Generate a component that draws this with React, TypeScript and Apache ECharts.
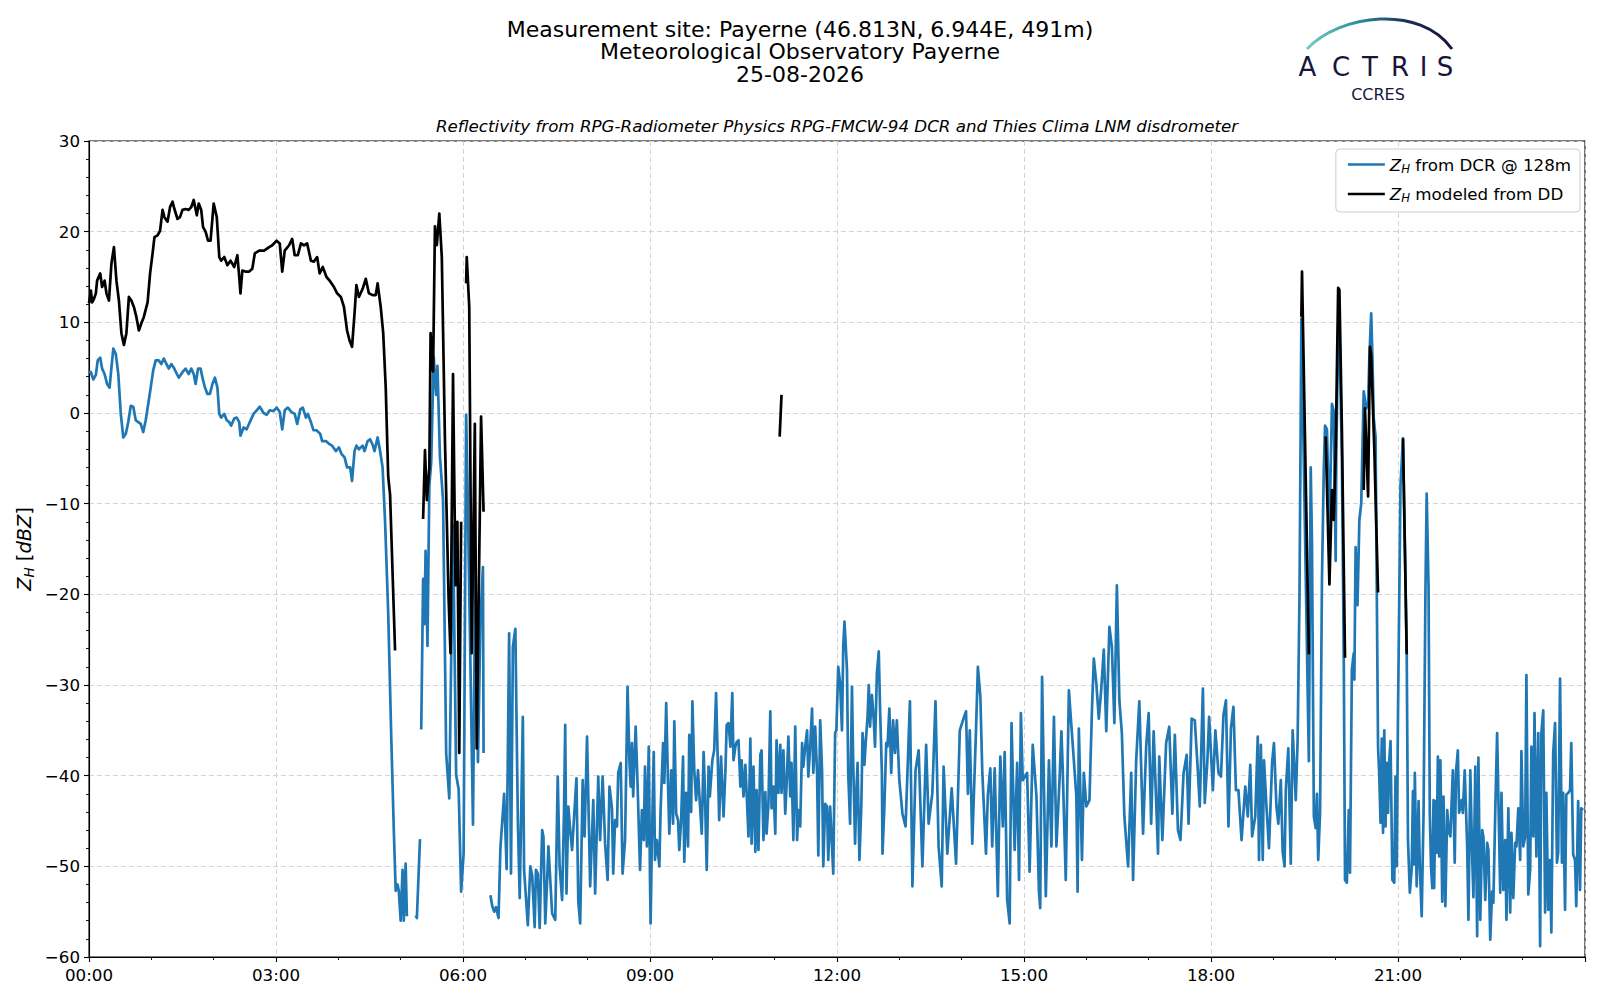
import React, { useEffect, useRef } from "react";
import * as echarts from "echarts";

type P = [number, number];

// ---- tick labels / axis ranges ----
const xTickHours: number[] = [0, 3, 6, 9, 12, 15, 18, 21];
const yRange: number[] = [-60, 30];

// ---- texts ----
const titleLines: string[] = [
  "Measurement site: Payerne (46.813N, 6.944E, 491m)",
  "Meteorological Observatory Payerne",
  "25-08-2026",
];
const subTitle = "Reflectivity from RPG-Radiometer Physics RPG-FMCW-94 DCR and Thies Clima LNM disdrometer";
const seriesNames: string[] = ["ZH from DCR @ 128m", "ZH modeled from DD"];

// ---- Z_H from DCR (hour, dBZ) ----
const dcrEarly: P[] = [
  [0.0, 4.5], [0.03, 4.5], [0.07, 3.7], [0.11, 4.2], [0.14, 5.8], [0.18, 6.1], [0.21, 4.9], [0.25, 4.3],
  [0.29, 3.2], [0.33, 2.8], [0.36, 5.0], [0.39, 7.1], [0.43, 6.5], [0.47, 4.3], [0.51, -0.1], [0.55, -2.7],
  [0.59, -2.3], [0.63, -1.0], [0.67, 0.8], [0.71, 0.7], [0.75, -0.8], [0.79, -1.0], [0.83, -1.2], [0.87, -2.1],
  [0.91, -0.8], [0.95, 1.0], [0.99, 2.8], [1.03, 4.7], [1.07, 5.8], [1.12, 5.8], [1.16, 5.4], [1.2, 6.0],
  [1.25, 5.3], [1.28, 4.9], [1.32, 5.4], [1.36, 5.0], [1.41, 4.3], [1.44, 3.9], [1.5, 4.5], [1.55, 4.9],
  [1.6, 4.3], [1.64, 4.9], [1.68, 4.3], [1.71, 3.2], [1.75, 4.9], [1.79, 4.9], [1.82, 3.9], [1.86, 2.8],
  [1.9, 2.1], [1.94, 2.1], [1.98, 3.2], [2.02, 3.9], [2.06, 2.8], [2.09, -0.1], [2.12, -0.5], [2.17, -0.1],
  [2.21, -0.8], [2.25, -1.0], [2.28, -1.4], [2.33, -0.6], [2.37, -0.5], [2.41, -1.0], [2.43, -2.5], [2.48, -1.6],
  [2.53, -1.8], [2.58, -1.0], [2.64, -0.1], [2.69, 0.3], [2.74, 0.7], [2.8, 0.0], [2.85, -0.2], [2.9, 0.3],
  [2.96, 0.2], [3.01, 0.6], [3.06, 0.1], [3.1, -1.8], [3.14, 0.3], [3.19, 0.6], [3.25, 0.1], [3.3, -0.1],
  [3.34, -1.2], [3.39, 0.4], [3.43, 0.6], [3.48, -0.5], [3.51, -0.1], [3.56, -1.0], [3.6, -1.9], [3.65, -1.9],
  [3.71, -2.3], [3.74, -3.1], [3.8, -3.1], [3.85, -3.4], [3.9, -3.6], [3.96, -4.2], [4.01, -3.8], [4.05, -4.5],
  [4.1, -4.9], [4.14, -6.0], [4.19, -6.0], [4.22, -7.5], [4.26, -4.2], [4.29, -3.6], [4.33, -4.0], [4.39, -3.6],
  [4.42, -4.2], [4.47, -3.1], [4.51, -2.9], [4.55, -3.5], [4.58, -4.2], [4.63, -2.7], [4.67, -4.2], [4.71, -6.0],
  [4.75, -12.0], [4.8, -22.0], [4.85, -36.0], [4.89, -46.0], [4.92, -52.7], [4.95, -52.0], [4.97, -52.7],
  [5.0, -56.0], [5.03, -50.4], [5.05, -56.0], [5.08, -49.7], [5.1, -55.5],
];
const dcrDip: P[] = [[5.24, -55.4], [5.26, -55.7], [5.31, -47.0]];
const dcrBurst: P[] = [
  [5.33, -34.9], [5.36, -18.3], [5.38, -23.3], [5.4, -15.2], [5.43, -25.7], [5.46, -8.0], [5.49, -5.4],
  [5.53, 6.2], [5.57, 2.0], [5.59, 5.2], [5.63, -4.8], [5.68, -9.6], [5.73, -37.5], [5.78, -42.5],
  [5.84, -12.3], [5.89, -39.9], [5.93, -41.5], [5.97, -52.8], [6.01, -48.6], [6.05, -0.2], [6.07, -7.0],
  [6.12, -28.0], [6.16, -45.4], [6.2, -14.9], [6.24, -38.5], [6.28, -22.8], [6.32, -17.0], [6.33, -37.5],
];
const dcrMorning: P[] = [
  [6.44, -53.2], [6.47, -54.4], [6.5, -55.0], [6.53, -54.5], [6.57, -55.7], [6.6, -48.0], [6.63, -45.0],
  [6.66, -42.0], [6.7, -50.3], [6.74, -24.3], [6.77, -50.8], [6.8, -25.8], [6.84, -23.8], [6.88, -45.0],
  [6.91, -53.5], [6.96, -33.5], [6.98, -50.4], [7.04, -56.5], [7.08, -50.0], [7.11, -51.0], [7.15, -56.7],
  [7.17, -50.4], [7.2, -50.8], [7.23, -56.8], [7.27, -46.0], [7.29, -46.7], [7.32, -56.3], [7.35, -51.5],
  [7.37, -47.8], [7.43, -55.2], [7.48, -55.9], [7.52, -40.1], [7.55, -50.0], [7.59, -53.7], [7.62, -44.2],
  [7.64, -34.4], [7.66, -53.0], [7.69, -43.4], [7.72, -46.0], [7.75, -48.2], [7.82, -40.3], [7.85, -53.9],
  [7.88, -56.3], [7.92, -40.5], [7.95, -46.7], [7.99, -35.7], [8.04, -52.2], [8.09, -42.7], [8.12, -53.0],
  [8.17, -40.1], [8.2, -47.1], [8.24, -40.1], [8.28, -47.5], [8.32, -51.5], [8.35, -41.2], [8.39, -43.6],
  [8.41, -50.8], [8.44, -44.9], [8.47, -45.6], [8.49, -39.7], [8.53, -38.6], [8.56, -50.8], [8.6, -47.1],
  [8.64, -30.2], [8.67, -38.3], [8.69, -41.2], [8.71, -36.4], [8.73, -42.3], [8.77, -34.6], [8.8, -40.8],
  [8.84, -50.4], [8.87, -43.8], [8.9, -47.1], [8.92, -39.0], [8.95, -47.8], [8.98, -36.8], [9.0, -51.5],
  [9.01, -56.3], [9.03, -47.1], [9.06, -37.4], [9.08, -49.3], [9.11, -47.1], [9.15, -50.0], [9.17, -43.8],
  [9.21, -36.4], [9.23, -40.8], [9.26, -32.0], [9.29, -41.2], [9.31, -46.4], [9.34, -39.4], [9.37, -45.3],
  [9.39, -34.0], [9.42, -44.2], [9.45, -44.9], [9.47, -48.2], [9.5, -44.9], [9.53, -37.9], [9.55, -49.5],
  [9.58, -41.9], [9.61, -47.8], [9.63, -35.5], [9.66, -44.0], [9.68, -31.8], [9.71, -39.4], [9.74, -42.7],
  [9.77, -39.4], [9.79, -41.9], [9.83, -46.4], [9.86, -37.4], [9.88, -41.5], [9.91, -50.4], [9.94, -39.0],
  [9.96, -42.3], [10.0, -38.3], [10.03, -37.2], [10.06, -30.9], [10.09, -39.0], [10.11, -44.9], [10.14, -37.9],
  [10.18, -44.5], [10.21, -39.4], [10.23, -34.4], [10.26, -34.2], [10.29, -36.8], [10.32, -30.9], [10.34, -38.3],
  [10.37, -36.8], [10.39, -36.3], [10.42, -36.1], [10.45, -41.2], [10.47, -38.3], [10.5, -42.3], [10.53, -38.8],
  [10.55, -41.9], [10.58, -46.7], [10.61, -35.9], [10.63, -47.5], [10.66, -39.0], [10.69, -48.4], [10.71, -41.6],
  [10.74, -48.2], [10.77, -37.7], [10.79, -37.2], [10.82, -47.1], [10.85, -41.8], [10.87, -46.4], [10.9, -43.1],
  [10.93, -32.9], [10.95, -43.6], [10.98, -41.2], [11.01, -46.4], [11.03, -36.1], [11.06, -41.9], [11.09, -36.6],
  [11.11, -41.9], [11.14, -37.2], [11.17, -44.2], [11.19, -41.2], [11.22, -35.7], [11.25, -42.3], [11.27, -38.6],
  [11.3, -47.1], [11.33, -34.6], [11.36, -47.1], [11.38, -43.8], [11.41, -45.6], [11.44, -36.4], [11.46, -39.0],
  [11.49, -36.8], [11.52, -35.0], [11.54, -40.1], [11.57, -36.8], [11.6, -32.6], [11.62, -39.7], [11.65, -34.6],
  [11.68, -39.7], [11.7, -48.8], [11.73, -33.9], [11.76, -39.4], [11.78, -50.0], [11.81, -43.1], [11.84, -43.4],
  [11.86, -49.3], [11.89, -43.4], [11.92, -47.8], [11.94, -50.8],
];
const dcrNoon: P[] = [
  [11.97, -35.3], [11.99, -35.0], [12.02, -28.0], [12.05, -29.8], [12.08, -35.0], [12.1, -25.8], [12.12, -23.0],
  [12.16, -28.3], [12.18, -39.7], [12.21, -45.3], [12.24, -30.2], [12.26, -38.6], [12.29, -47.5], [12.31, -41.9],
  [12.33, -38.6], [12.36, -49.3], [12.39, -43.4], [12.41, -35.3], [12.44, -38.8], [12.46, -36.4], [12.49, -33.5],
  [12.51, -30.0], [12.53, -34.6], [12.56, -31.1], [12.59, -33.9], [12.61, -36.8], [12.64, -28.7], [12.67, -26.3],
  [12.69, -32.4], [12.72, -39.7], [12.73, -48.6], [12.76, -43.4], [12.79, -36.4], [12.81, -36.8], [12.84, -32.6],
  [12.87, -39.7], [12.9, -33.9], [12.93, -37.5], [12.96, -33.9], [13.0, -40.5], [13.05, -44.2], [13.1, -45.6],
  [13.17, -31.8], [13.21, -52.2], [13.26, -39.4], [13.31, -37.2], [13.37, -50.0], [13.43, -36.6], [13.47, -45.3],
  [13.53, -41.9], [13.58, -31.8], [13.63, -47.8], [13.68, -52.2], [13.71, -39.0], [13.77, -48.6], [13.84, -41.4],
  [13.91, -49.7], [13.97, -35.0], [14.02, -33.9], [14.07, -32.9], [14.1, -42.0], [14.13, -35.0], [14.17, -47.5],
  [14.23, -35.0], [14.26, -28.0], [14.3, -31.3], [14.33, -39.4], [14.39, -48.6], [14.42, -42.1], [14.46, -39.2],
  [14.49, -47.8], [14.53, -39.2], [14.58, -53.3], [14.62, -37.9], [14.66, -45.6], [14.69, -37.4], [14.73, -53.7],
  [14.77, -56.3], [14.8, -34.2], [14.85, -48.2], [14.89, -38.6], [14.92, -51.5], [14.95, -33.1], [14.98, -40.5],
];
const dcrLate: P[] = [
  [15.05, -39.7], [15.09, -50.6], [15.14, -36.6], [15.2, -42.3], [15.24, -52.8], [15.26, -54.6], [15.29, -29.1],
  [15.35, -53.3], [15.4, -38.3], [15.44, -47.8], [15.48, -33.5], [15.52, -47.8], [15.57, -40.5], [15.6, -35.1],
  [15.62, -39.0], [15.67, -51.5], [15.72, -30.6], [15.78, -36.4], [15.84, -42.3], [15.86, -52.8], [15.88, -34.8],
  [15.93, -49.3], [15.96, -39.7], [16.0, -43.4], [16.05, -42.7], [16.09, -32.8], [16.12, -27.1], [16.16, -29.8],
  [16.2, -33.7], [16.24, -30.4], [16.28, -26.1], [16.32, -35.1], [16.37, -23.6], [16.41, -25.8], [16.45, -34.2],
  [16.49, -19.0], [16.53, -31.7], [16.57, -35.3], [16.61, -44.5], [16.67, -50.0], [16.72, -39.7], [16.75, -51.5],
  [16.8, -38.3], [16.85, -31.8], [16.91, -46.4], [16.96, -36.8], [17.0, -33.1], [17.04, -45.3], [17.08, -35.1],
  [17.15, -48.6], [17.17, -37.9], [17.22, -47.1], [17.28, -36.4], [17.33, -34.6], [17.38, -44.2], [17.42, -35.5],
  [17.47, -46.0], [17.51, -47.1], [17.56, -39.7], [17.61, -37.7], [17.64, -45.3], [17.69, -33.7], [17.74, -33.9],
  [17.79, -39.6], [17.82, -43.4], [17.87, -30.4], [17.9, -43.0], [17.94, -38.6], [17.97, -33.5], [18.03, -41.6],
  [18.07, -35.0], [18.12, -39.7], [18.16, -40.1], [18.2, -33.3], [18.24, -31.7], [18.28, -45.6], [18.32, -34.8],
  [18.36, -32.4], [18.4, -41.6], [18.44, -41.6], [18.49, -47.1], [18.55, -41.2], [18.59, -44.5], [18.63, -38.8],
  [18.66, -46.7], [18.71, -44.5], [18.75, -35.7], [18.77, -49.3], [18.8, -36.6], [18.83, -49.3], [18.85, -38.3],
  [18.89, -43.4], [18.93, -48.0], [18.98, -38.6], [19.01, -36.4], [19.05, -43.4], [19.08, -45.3], [19.12, -40.5],
  [19.15, -48.4], [19.18, -50.0], [19.2, -41.6], [19.24, -37.0], [19.28, -49.7], [19.31, -35.0], [19.36, -42.7],
  [19.39, -36.0],
];
const dcrEvening: P[] = [
  [19.42, -20.0], [19.45, 10.4], [19.51, -14.0], [19.57, -38.4], [19.6, -6.0], [19.62, -14.4], [19.65, -44.5],
  [19.68, -45.8], [19.7, -42.0], [19.72, -49.3], [19.75, -44.0], [19.78, -18.4], [19.81, -6.0], [19.83, -1.4],
  [19.86, -1.8], [19.9, -13.2], [19.94, 1.0], [19.97, 0.2], [20.0, -16.3], [20.01, -4.5], [20.05, 13.0],
  [20.1, -5.0], [20.13, -27.0], [20.15, -51.5], [20.18, -51.8], [20.21, -43.8], [20.23, -50.7], [20.26, -28.3],
  [20.29, -26.5], [20.3, -29.4], [20.32, -14.8], [20.35, -21.2], [20.38, -11.8], [20.41, -10.0], [20.45, 2.4],
  [20.49, 0.5], [20.52, 1.0], [20.54, 6.0], [20.57, 11.0], [20.59, 6.0], [20.61, -0.5], [20.64, -2.6],
  [20.66, -20.0], [20.68, -36.8], [20.7, -40.1], [20.72, -45.2], [20.74, -35.9], [20.76, -46.3], [20.78, -35.0],
  [20.8, -45.6], [20.82, -38.6], [20.84, -44.1], [20.86, -38.3], [20.88, -36.2], [20.91, -51.5], [20.94, -51.8],
  [20.96, -40.1], [20.98, -50.0], [21.0, -33.1], [21.04, -8.0], [21.08, -2.8], [21.14, -26.6], [21.16, -47.0],
  [21.19, -52.9], [21.22, -50.2], [21.24, -41.7], [21.26, -49.8], [21.27, -39.7], [21.3, -52.2], [21.33, -42.8],
  [21.35, -50.0], [21.38, -55.5], [21.41, -44.1], [21.44, -19.9], [21.46, -8.9], [21.49, -19.2], [21.51, -44.1],
  [21.53, -50.0], [21.55, -52.4], [21.57, -42.7], [21.58, -52.4], [21.6, -42.8],
];
const dcrNight: P[] = [
  [21.62, -48.5], [21.64, -37.9], [21.66, -48.9], [21.68, -38.3], [21.71, -53.9], [21.73, -42.3], [21.76, -54.4],
  [21.79, -43.8], [21.81, -46.0], [21.84, -46.7], [21.88, -39.4], [21.91, -49.6], [21.93, -39.7], [21.96, -37.2],
  [21.98, -44.1], [22.02, -42.7], [22.04, -44.1], [22.07, -39.4], [22.11, -47.8], [22.13, -55.9], [22.16, -39.4],
  [22.19, -48.9], [22.21, -53.4], [22.24, -39.0], [22.27, -57.7], [22.29, -38.0], [22.32, -55.9], [22.35, -46.0],
  [22.37, -46.7], [22.4, -53.7], [22.43, -47.4], [22.45, -48.2], [22.48, -58.1], [22.51, -52.8], [22.53, -54.0],
  [22.56, -44.1], [22.59, -35.3], [22.61, -42.3], [22.64, -52.9], [22.66, -41.9], [22.69, -52.6], [22.72, -47.1],
  [22.74, -55.9], [22.77, -43.6], [22.8, -55.1], [22.82, -46.3], [22.85, -53.5], [22.88, -47.4], [22.9, -47.8],
  [22.93, -43.6], [22.96, -49.3], [22.98, -37.3], [23.01, -47.8], [23.04, -46.7], [23.06, -28.9], [23.09, -53.1],
  [23.12, -50.4], [23.14, -36.8], [23.17, -46.7], [23.19, -33.1], [23.22, -48.9], [23.25, -35.3], [23.28, -58.8],
  [23.3, -35.3], [23.33, -32.8], [23.36, -55.1], [23.38, -41.9], [23.41, -54.8], [23.44, -49.3], [23.46, -57.3],
  [23.49, -37.5], [23.52, -34.2], [23.55, -49.6], [23.57, -48.5], [23.6, -29.3], [23.63, -49.6], [23.65, -41.9],
  [23.68, -54.8], [23.7, -42.1], [23.73, -41.9], [23.76, -41.6], [23.78, -36.4], [23.81, -48.7], [23.84, -49.3],
  [23.86, -54.4], [23.89, -42.8], [23.92, -52.6], [23.94, -43.6], [23.97, -43.8],
];

// ---- Z_H modeled from disdrometer (hour, dBZ) ----
const ddEarly: P[] = [
  [0.0, 12.1], [0.03, 13.5], [0.05, 12.2], [0.08, 12.6], [0.11, 13.2], [0.13, 14.6], [0.18, 15.4], [0.21, 13.9],
  [0.25, 14.6], [0.28, 13.2], [0.32, 12.4], [0.36, 16.5], [0.4, 18.3], [0.44, 14.6], [0.48, 12.4], [0.52, 8.8],
  [0.56, 7.5], [0.6, 8.8], [0.64, 12.8], [0.68, 12.4], [0.72, 11.7], [0.76, 10.6], [0.8, 9.1], [0.84, 9.9],
  [0.88, 10.6], [0.94, 12.2], [0.98, 15.4], [1.02, 17.6], [1.05, 19.4], [1.1, 19.6], [1.14, 20.1], [1.18, 22.4],
  [1.21, 21.6], [1.26, 21.1], [1.3, 22.7], [1.34, 23.3], [1.37, 22.5], [1.42, 21.4], [1.46, 21.6], [1.5, 22.4],
  [1.55, 22.5], [1.6, 22.4], [1.64, 22.7], [1.68, 23.5], [1.73, 21.8], [1.76, 23.1], [1.8, 22.4], [1.83, 20.5],
  [1.87, 20.0], [1.91, 19.0], [1.95, 19.0], [2.0, 23.1], [2.05, 21.6], [2.09, 17.2], [2.12, 16.8], [2.17, 17.2],
  [2.22, 16.3], [2.27, 16.8], [2.33, 16.1], [2.38, 17.4], [2.41, 15.0], [2.43, 13.2], [2.46, 15.7], [2.51, 15.6],
  [2.57, 15.6], [2.62, 15.9], [2.66, 17.6], [2.73, 17.9], [2.81, 17.9], [2.89, 18.3], [2.94, 18.5], [3.01, 19.0],
  [3.06, 18.7], [3.1, 15.6], [3.14, 17.9], [3.21, 18.5], [3.26, 19.2], [3.3, 17.4], [3.35, 17.4], [3.4, 18.7],
  [3.45, 18.5], [3.5, 18.7], [3.56, 16.8], [3.61, 16.7], [3.66, 17.2], [3.7, 15.4], [3.75, 16.1], [3.81, 15.0],
  [3.86, 14.6], [3.93, 13.9], [3.98, 13.2], [4.04, 12.8], [4.09, 11.7], [4.14, 9.1], [4.18, 8.0], [4.22, 7.3],
  [4.26, 11.0], [4.29, 14.1], [4.33, 12.8], [4.39, 13.7], [4.44, 14.8], [4.49, 13.2], [4.55, 13.0], [4.6, 13.0],
  [4.63, 14.3], [4.68, 11.7], [4.72, 8.8], [4.76, 2.9], [4.8, -7.0], [4.83, -9.0], [4.91, -26.2],
];
const ddBurstA: P[] = [
  [5.36, -11.7], [5.39, -4.1], [5.42, -9.6], [5.46, -6.0], [5.48, 8.8], [5.52, 4.6], [5.55, 20.6], [5.58, 18.5],
  [5.62, 22.0], [5.66, 17.2], [5.71, -2.8], [5.77, -20.7], [5.8, -26.5], [5.84, 4.3], [5.88, -19.0], [5.91, -12.0],
  [5.94, -37.5], [5.97, -12.0],
];
const ddBurstB: P[] = [
  [6.05, 14.3], [6.06, 17.2], [6.1, 11.7], [6.14, -26.5], [6.19, -1.2], [6.22, -37.0], [6.29, -0.4], [6.33, -10.9],
];
const ddNoon: P[] = [[11.08, -2.6], [11.11, 2.0]];
const ddEveningA: P[] = [[19.45, 10.6], [19.46, 15.6], [19.57, -26.6]];
const ddEveningB: P[] = [
  [19.84, -2.6], [19.9, -18.9], [19.94, -8.5], [19.97, -11.8], [20.0, -4.3], [20.04, 13.8], [20.06, 13.6],
  [20.1, -1.8], [20.15, -27.0],
];
const ddEveningC: P[] = [
  [20.45, -8.5], [20.47, 0.5], [20.52, -9.2], [20.55, 7.3], [20.57, 6.4], [20.62, -4.0], [20.68, -19.8],
];
const ddEveningD: P[] = [[21.08, -2.8], [21.14, -26.6]];

// join runs of samples, breaking the line between runs that are separate
function joinRuns(runs: P[][][]): (number | null)[][] {
  const out: (number | null)[][] = [];
  runs.forEach((group, gi) => {
    if (gi > 0) out.push([group[0][0][0], null]);
    group.forEach((seg) => seg.forEach((p) => out.push([p[0], p[1]])));
  });
  return out;
}

const dcrData = joinRuns([
  [dcrEarly],
  [dcrDip],
  [dcrBurst],
  [dcrMorning, dcrNoon, dcrLate, dcrEvening, dcrNight],
]);
const ddData = joinRuns([
  [ddEarly], [ddBurstA], [ddBurstB], [ddNoon], [ddEveningA], [ddEveningB], [ddEveningC], [ddEveningD],
]);

const FONT = "DejaVu Sans";
const BLUE = "#1f77b4";
const NAVY = "#16163d";
const LW = 2.7;

function pad2(n: number) {
  return (n < 10 ? "0" : "") + n;
}

export default function App() {
  const ref = useRef<HTMLDivElement>(null);
  useEffect(() => {
    if (!ref.current) return;
    const chart = echarts.init(ref.current, null, { renderer: "svg" });

    const richZ = {
      i: { fontStyle: "italic", fontSize: 16.7, fontFamily: FONT, color: "#000", lineHeight: 20 },
      s: { fontStyle: "italic", fontSize: 11.7, fontFamily: FONT, color: "#000", lineHeight: 12, verticalAlign: "bottom" },
      t: { fontSize: 16.7, fontFamily: FONT, color: "#000", lineHeight: 20 },
    };

    const option: any = {
      animation: false,
      backgroundColor: "#ffffff",
      grid: {
        left: 89, right: 15, top: 141, bottom: 43,
        show: true, borderColor: "#000", borderWidth: 1.1, backgroundColor: "transparent",
        containLabel: false,
      },
      legend: {
        show: true,
        orient: "vertical",
        right: 20,
        top: 149,
        icon: "rect",
        itemWidth: 37,
        itemHeight: LW,
        itemGap: 11,
        padding: [7, 9, 8, 12],
        borderColor: "#cccccc",
        borderWidth: 1,
        borderRadius: 4,
        backgroundColor: "rgba(255,255,255,0.85)",
        data: seriesNames,
        formatter: (name: string) =>
          name === seriesNames[0] ? "{i|Z}{s|H}{t| from DCR @ 128m}" : "{i|Z}{s|H}{t| modeled from DD}",
        textStyle: { fontSize: 16.7, fontFamily: FONT, color: "#000", rich: richZ },
      },
      xAxis: {
        type: "value",
        min: 0,
        max: 24,
        interval: 3,
        axisLine: { show: true, onZero: false, lineStyle: { color: "#000", width: 1.1 } },
        axisTick: { show: true, length: 5, lineStyle: { color: "#000", width: 1.1 } },
        minorTick: { show: true, splitNumber: 3, length: 3, lineStyle: { color: "#000", width: 0.9 } },
        axisLabel: {
          show: true,
          margin: 9,
          fontSize: 16.7,
          fontFamily: FONT,
          color: "#000",
          formatter: (v: number) => (xTickHours.indexOf(v) >= 0 ? pad2(v) + ":00" : ""),
        },
        splitLine: { show: true, lineStyle: { color: "#d4d4d4", width: 1, type: [5, 3] } },
      },
      yAxis: {
        type: "value",
        min: yRange[0],
        max: yRange[1],
        interval: 10,
        axisLine: { show: true, onZero: false, lineStyle: { color: "#000", width: 1.1 } },
        axisTick: { show: true, length: 5, lineStyle: { color: "#000", width: 1.1 } },
        minorTick: { show: true, splitNumber: 5, length: 3, lineStyle: { color: "#000", width: 0.9 } },
        axisLabel: {
          show: true,
          margin: 9,
          fontSize: 16.7,
          fontFamily: FONT,
          color: "#000",
          formatter: (v: number) => (v < 0 ? "\u2212" + Math.abs(v) : String(v)),
        },
        splitLine: { show: true, lineStyle: { color: "#d4d4d4", width: 1, type: [5, 3] } },
      },
      series: [
        {
          name: seriesNames[0],
          type: "line",
          data: dcrData,
          symbol: "none",
          showSymbol: false,
          connectNulls: false,
          lineStyle: { color: BLUE, width: LW, join: "round" },
          itemStyle: { color: BLUE },
          z: 2,
        },
        {
          name: seriesNames[1],
          type: "line",
          data: ddData,
          symbol: "none",
          showSymbol: false,
          connectNulls: false,
          lineStyle: { color: "#000", width: LW, join: "round" },
          itemStyle: { color: "#000" },
          z: 3,
        },
      ],
      graphic: [
        ...titleLines.map((t, i) => ({
          type: "text",
          x: 800,
          y: [29, 51.5, 74.5][i],
          style: {
            text: t, fontSize: 22, lineHeight: 22, fontFamily: FONT, fill: "#000",
            align: "center", verticalAlign: "middle",
          },
        })),
        {
          type: "text",
          x: 837,
          y: 126,
          style: {
            text: subTitle, fontSize: 16.7, fontStyle: "italic", fontFamily: FONT, fill: "#000",
            align: "center", verticalAlign: "middle",
          },
        },
        {
          type: "text",
          x: 24,
          y: 549,
          rotation: Math.PI / 2,
          style: {
            text: "{i|Z}{s|H}{t| [}{i|dBZ}{t|]}",
            align: "center",
            verticalAlign: "middle",
            rich: {
              i: { fontStyle: "italic", fontSize: 19.4, fontFamily: FONT, fill: "#000", lineHeight: 24 },
              s: { fontStyle: "italic", fontSize: 13.6, fontFamily: FONT, fill: "#000", lineHeight: 14, verticalAlign: "bottom" },
              t: { fontSize: 19.4, fontFamily: FONT, fill: "#000", lineHeight: 24 },
            },
          },
        },
        // ACTRIS / CCRES logo
        {
          type: "bezierCurve",
          shape: { x1: 1307, y1: 49, cpx1: 1340, cpy1: 14, cpx2: 1420, cpy2: 4, x2: 1452, y2: 49 },
          style: {
            fill: null,
            lineWidth: 3,
            stroke: new echarts.graphic.LinearGradient(0, 0, 1, 0, [
              { offset: 0, color: "#7cc9c4" },
              { offset: 0.35, color: "#2f8f9c" },
              { offset: 0.7, color: "#1c2a55" },
              { offset: 1, color: NAVY },
            ]),
          },
        },
        {
          type: "line",
          shape: { x1: 1425, y1: 1, x2: 1425, y2: 54 },
          style: {
            lineWidth: 2.2,
            stroke: new echarts.graphic.LinearGradient(0, 0, 0, 1, [
              { offset: 0, color: "rgba(22,22,61,0.15)" },
              { offset: 0.45, color: NAVY },
              { offset: 1, color: NAVY },
            ]),
          },
        },
        ...["A", "C", "T", "R", "I", "S"].map((ch, i) => ({
          type: "text",
          x: [1307.5, 1341, 1370, 1400, 1423.5, 1445][i],
          y: 66.5,
          style: {
            text: ch, fontSize: 26, lineHeight: 26, fontFamily: FONT, fill: NAVY,
            align: "center", verticalAlign: "middle",
          },
        })),
        {
          type: "text",
          x: 1378,
          y: 94,
          style: {
            text: "CCRES", fontSize: 16, lineHeight: 16, fontFamily: FONT, fill: NAVY,
            align: "center", verticalAlign: "middle",
          },
        },
      ],
    };

    chart.setOption(option);
    return () => chart.dispose();
  }, []);

  return (
    <div
      ref={ref}
      style={{ position: "fixed", left: 0, top: 0, width: 1600, height: 1000, background: "#ffffff" }}
    />
  );
}
